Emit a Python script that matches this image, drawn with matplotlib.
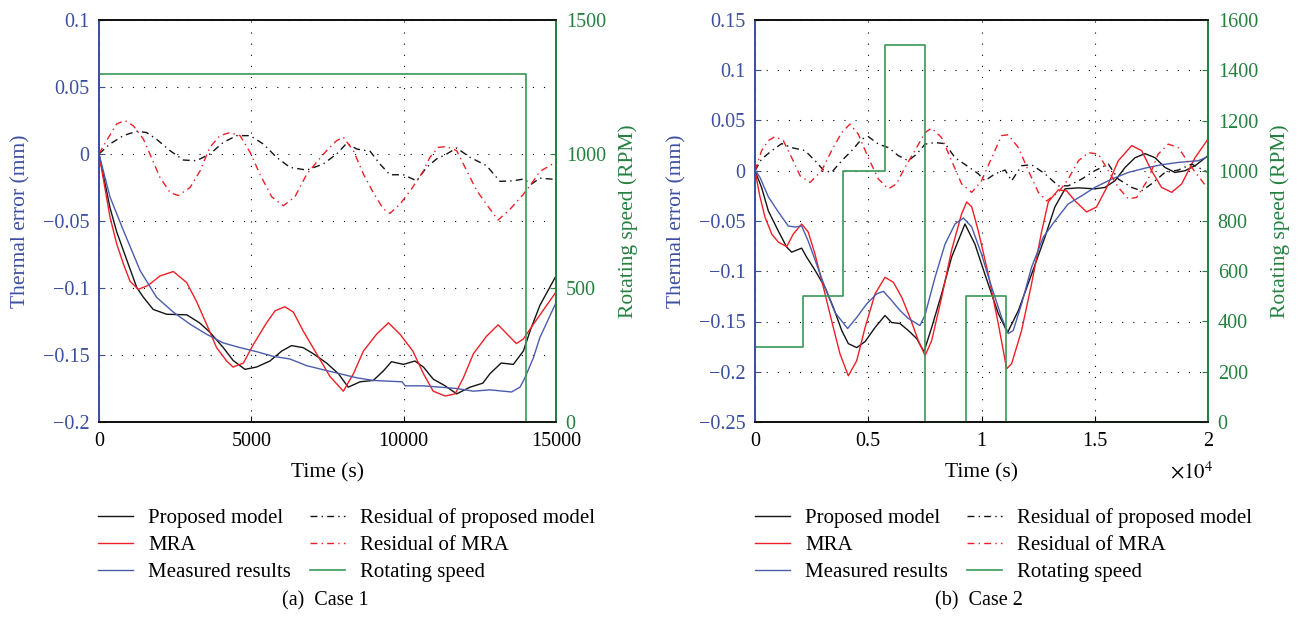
import matplotlib
matplotlib.use('Agg')
import matplotlib.pyplot as plt
from matplotlib.ticker import FuncFormatter, MultipleLocator

plt.rcParams['font.family'] = ['Liberation Serif', 'DejaVu Serif']
plt.rcParams['mathtext.fontset'] = 'stix'

# ---------------- case 1 data (time in s, error in mm, speed in rpm) ----------------
c1_prop_t = [0, 360, 580, 800, 1240, 1460, 1780, 2220, 2880, 3300, 3640, 4080, 4400, 4790, 5170,
             5610, 6000, 6320, 6700, 7030, 7470, 7860, 8180, 8570, 9000, 9330, 9600, 9990, 10370,
             10650, 10970, 11360, 11740, 12180, 12600, 12830, 13200, 13600, 13930, 14150, 14470, 15000]
c1_prop_v = [0, -0.040, -0.058, -0.072, -0.0997, -0.107, -0.116, -0.1196, -0.120, -0.126, -0.133,
             -0.1445, -0.154, -0.1607, -0.159, -0.1545, -0.147, -0.143, -0.1445, -0.149, -0.156,
             -0.164, -0.174, -0.170, -0.169, -0.162, -0.155, -0.157, -0.1545, -0.159, -0.168,
             -0.173, -0.179, -0.174, -0.171, -0.164, -0.156, -0.157, -0.147, -0.132, -0.113, -0.091]

c1_mra_t = [0, 360, 580, 800, 1020, 1290, 1620, 2000, 2440, 2880, 3200, 3530, 3860, 4190, 4400,
            4740, 5070, 5500, 5780, 6100, 6380, 6700, 7140, 7580, 8020, 8350, 8680, 9110, 9500,
            9880, 10300, 10650, 10970, 11360, 11690, 11960, 12290, 12720, 13100, 13400, 13700,
            13930, 14260, 15000]
c1_mra_v = [0, -0.047, -0.067, -0.082, -0.095, -0.101, -0.098, -0.091, -0.0877, -0.096, -0.110,
            -0.127, -0.1445, -0.1545, -0.159, -0.156, -0.142, -0.126, -0.117, -0.114, -0.118,
            -0.132, -0.149, -0.166, -0.177, -0.164, -0.147, -0.1345, -0.126, -0.1345, -0.147,
            -0.164, -0.177, -0.1806, -0.179, -0.167, -0.149, -0.136, -0.1275, -0.1345, -0.1415,
            -0.138, -0.127, -0.103]

c1_meas_t = [0, 360, 800, 1350, 1890, 2440, 2990, 3530, 4080, 4630, 5170, 5720, 6270, 6820, 7360,
             7910, 8460, 9000, 9950, 10050, 10650, 11190, 11740, 12290, 12830, 13540, 13820,
             13980, 14260, 14470, 15000]
c1_meas_v = [0, -0.032, -0.057, -0.087, -0.107, -0.118, -0.127, -0.1345, -0.141, -0.1445, -0.1475,
             -0.151, -0.153, -0.158, -0.161, -0.164, -0.167, -0.169, -0.170, -0.173, -0.173,
             -0.174, -0.175, -0.177, -0.176, -0.1776, -0.174, -0.167, -0.152, -0.137, -0.111]

c1_rprop_t = [0, 360, 800, 1240, 1560, 1890, 2330, 2770, 3200, 3640, 4080, 4520, 4960, 5390, 5830,
              6270, 6820, 7360, 7800, 8130, 8460, 8900, 9220, 9550, 9990, 10430, 10750, 11080,
              11410, 11740, 12180, 12720, 13160, 13600, 13930, 14200, 14470, 15000]
c1_rprop_v = [0, 0.0075, 0.0137, 0.017, 0.016, 0.011, 0.0025, -0.0045, -0.005, 0.0, 0.0087,
              0.0137, 0.0137, 0.0075, -0.0025, -0.010, -0.012, -0.0075, 0.0, 0.008, 0.0037, 0.002,
              -0.0075, -0.0155, -0.0155, -0.020, -0.010, -0.0037, 0.0, 0.0045, -0.0025, -0.0087,
              -0.0204, -0.020, -0.0187, -0.0224, -0.018, -0.019]

c1_rmra_t = [0, 250, 580, 850, 1130, 1460, 1670, 2000, 2330, 2600, 2990, 3320, 3640, 3970, 4300,
             4630, 4960, 5280, 5670, 6050, 6430, 6820, 7140, 7470, 7800, 8020, 8350, 8680, 9000,
             9330, 9550, 9880, 10260, 10650, 10860, 11140, 11410, 11740, 12070, 12400, 12830,
             13100, 13500, 13930, 14260, 14470, 15000]
c1_rmra_v = [0, 0.010, 0.0224, 0.025, 0.021, 0.011, 0.0, -0.0174, -0.0287, -0.031, -0.025,
             -0.0125, 0.005, 0.0137, 0.016, 0.0137, 0.0012, -0.015, -0.032, -0.0386, -0.032,
             -0.015, -0.0062, 0.0025, 0.010, 0.0125, 0.0025, -0.015, -0.0287, -0.041, -0.0443,
             -0.0374, -0.026, -0.0125, -0.0025, 0.005, 0.0055, 0.0025, -0.0125, -0.0274, -0.041,
             -0.0493, -0.041, -0.030, -0.020, -0.013, -0.006]

c1_speed_t = [0, 14000, 15000]
c1_speed_rpm = [1300, 0, 0]

# ---------------- case 2 data ----------------
c2_prop_t = [0, 290, 590, 1030, 1400, 1620, 1840, 2060, 2280, 2650, 3090, 3460, 3830, 4120, 4490,
             4860, 5300, 5740, 6030, 6400, 6770, 7140, 7460, 7800, 8240, 8680, 9270, 9710, 10150,
             10740, 11150, 11630, 12210, 12800, 13240, 13690, 14280, 15000, 15450, 15890, 16340,
             16780, 17220, 17660, 18100, 18540, 18980, 19430, 20000]
c2_prop_v = [0, -0.0166, -0.040, -0.060, -0.076, -0.081, -0.079, -0.077, -0.086, -0.099, -0.116,
             -0.136, -0.159, -0.172, -0.176, -0.170, -0.156, -0.144, -0.151, -0.152, -0.159,
             -0.167, -0.180, -0.156, -0.1225, -0.086, -0.053, -0.073, -0.103, -0.142, -0.161,
             -0.139, -0.103, -0.066, -0.036, -0.018, -0.017, -0.018, -0.0166, -0.010, 0.0033,
             0.013, 0.017, 0.013, 0.0033, -0.0017, 0.0, 0.005, 0.015]

c2_mra_t = [0, 220, 440, 740, 1030, 1400, 1690, 2060, 2350, 2650, 3020, 3380, 3750, 4120, 4490,
            4860, 5300, 5740, 6110, 6480, 6840, 7210, 7510, 7800, 8240, 8680, 9120, 9350, 9570,
            9860, 10300, 10740, 11110, 11330, 11770, 12210, 12660, 12950, 13390, 13760, 14130,
            14640, 15080, 15530, 16040, 16630, 17070, 17510, 17950, 18400, 18840, 19430, 20000]
c2_mra_v = [0, -0.026, -0.046, -0.063, -0.071, -0.0755, -0.063, -0.053, -0.061, -0.083, -0.116,
            -0.149, -0.182, -0.204, -0.189, -0.156, -0.1225, -0.106, -0.111, -0.126, -0.146,
            -0.169, -0.184, -0.169, -0.126, -0.079, -0.043, -0.031, -0.036, -0.060, -0.103,
            -0.152, -0.197, -0.192, -0.159, -0.1125, -0.060, -0.031, -0.019, -0.020, -0.030,
            -0.041, -0.036, -0.0166, 0.010, 0.025, 0.020, 0.0, -0.0166, -0.0215, -0.013, 0.013,
            0.0315]

c2_meas_t = [0, 220, 590, 1030, 1470, 1770, 2060, 2350, 2720, 3090, 3530, 4090, 4490, 4930, 5370,
             5670, 6030, 6400, 6770, 7280, 7500, 7950, 8390, 8830, 9200, 9570, 10000, 10450,
             10890, 11180, 11400, 11770, 12210, 12730, 13240, 13830, 14420, 15000, 15750, 16480,
             17220, 17950, 18690, 19570, 20000]
c2_meas_v = [0.001, -0.0066, -0.026, -0.041, -0.055, -0.056, -0.055, -0.070, -0.093, -0.116,
             -0.141, -0.157, -0.146, -0.1325, -0.1225, -0.120, -0.129, -0.139, -0.147, -0.154,
             -0.144, -0.106, -0.073, -0.053, -0.047, -0.056, -0.083, -0.116, -0.146, -0.162,
             -0.159, -0.1325, -0.096, -0.066, -0.050, -0.033, -0.025, -0.0166, -0.0083, -0.0017,
             0.0026, 0.006, 0.0083, 0.010, 0.014]

c2_rprop_t = [0, 290, 740, 1180, 1620, 2210, 2650, 3020, 3380, 3830, 4270, 4710, 5000, 5450, 5890,
              6330, 6770, 7140, 7510, 7950, 8390, 8830, 9350, 9860, 10150, 10600, 11040, 11330,
              11770, 12210, 12800, 13390, 13830, 14420, 15000, 15600, 16040, 16630, 17070, 17510,
              18100, 18690, 19280, 19570, 20000]
c2_rprop_v = [0, 0.0116, 0.020, 0.027, 0.023, 0.020, 0.010, 0.0007, -0.0017, 0.010, 0.020, 0.0315,
              0.034, 0.0265, 0.023, 0.015, 0.010, 0.0166, 0.0265, 0.028, 0.027, 0.013, 0.005,
              -0.003, -0.010, -0.003, 0.0007, -0.010, 0.005, 0.006, -0.003, -0.015, -0.015,
              -0.0083, 0.0, 0.0066, -0.0083, -0.0166, -0.020, -0.013, -0.0017, 0.0007, 0.0066,
              0.0033, -0.0017]

c2_rmra_t = [0, 290, 590, 880, 1250, 1620, 1990, 2430, 2940, 3380, 3830, 4190, 4560, 5000, 5450,
             5890, 6250, 6620, 7060, 7510, 7800, 8240, 8680, 9120, 9570, 10000, 10450, 10890,
             11180, 11630, 12070, 12510, 12880, 13390, 13830, 14280, 14720, 15160, 15600, 16040,
             16480, 16850, 17360, 17800, 18250, 18690, 19280, 20000]
c2_rmra_v = [0, 0.020, 0.030, 0.034, 0.030, 0.013, -0.005, -0.0116, 0.0, 0.020, 0.038, 0.0464,
             0.0364, 0.013, -0.0083, -0.018, -0.013, 0.0033, 0.020, 0.038, 0.0424, 0.033, 0.010,
             -0.013, -0.0215, -0.010, 0.013, 0.035, 0.0358, 0.023, 0.0, -0.0215, -0.030, -0.0215,
             -0.0083, 0.010, 0.018, 0.0166, 0.0, -0.0166, -0.028, -0.0265, -0.0083, 0.0166,
             0.0265, 0.023, 0.0033, -0.018]

c2_speed_t = [0, 2100, 3900, 5750, 7500, 9300, 11100, 20000]
c2_speed_rpm = [300, 500, 1000, 1500, 0, 500, 0, 0]

labels = ['Proposed model', 'MRA', 'Measured results',
          'Residual of proposed model', 'Residual of MRA', 'Rotating speed']

AX_BLUE = '#3c4fa2'
AX_GREEN = '#24813f'
L_BLACK = '#141414'
L_RED = '#ee1f26'
L_BLUE = '#4b5cad'
L_GREEN = '#3a9656'
DASHDOT = (0, (5, 3, 1, 3))

W, H = 1298, 625
fig = plt.figure(figsize=(W / 100, H / 100), dpi=100)


def num_fmt(v, pos):
    if abs(v) < 1e-9:
        return '0'
    return ('%g' % round(v, 4)).replace('-', '\u2212')


def panel(x0, x1, case, ylim, ystep, rpmlim, rpmstep, xlim, xfmt, leg_x, caption, cap_x):
    ax = fig.add_axes([x0 / W, 1 - 422 / H, (x1 - x0) / W, 402 / H])
    ax2 = ax.twinx()
    prop, mra, meas, rprop, rmra, speed = case
    h1, = ax.plot(*prop, color=L_BLACK, lw=1.0)
    h2, = ax.plot(*mra, color=L_RED, lw=1.0)
    h3, = ax.plot(*meas, color=L_BLUE, lw=1.0)
    h4, = ax.plot(*rprop, color=L_BLACK, lw=1.0, ls=DASHDOT)
    h5, = ax.plot(*rmra, color=L_RED, lw=1.0, ls=DASHDOT)
    h6, = ax2.plot(*speed, color=L_GREEN, lw=1.2, drawstyle='steps-post', clip_on=False)

    ax.set_xlim(*xlim)
    ax.set_ylim(*ylim)
    ax2.set_ylim(*rpmlim)
    ax.xaxis.set_major_locator(MultipleLocator(5000))
    ax.yaxis.set_major_locator(MultipleLocator(ystep))
    ax2.yaxis.set_major_locator(MultipleLocator(rpmstep))
    ax.xaxis.set_major_formatter(FuncFormatter(xfmt))
    ax.yaxis.set_major_formatter(FuncFormatter(num_fmt))
    ax.grid(True, ls=(0, (1, 9)), color='k', lw=0.8)

    ax.tick_params(axis='x', direction='in', length=4, labelsize=14.5, pad=7, top=False)
    ax.tick_params(axis='y', direction='in', length=4, labelsize=14.5, pad=7,
                   colors=AX_BLUE)
    ax2.tick_params(axis='y', direction='in', length=4, labelsize=14.5, pad=7,
                    colors=AX_GREEN)
    for a in (ax, ax2):
        for s in a.spines.values():
            s.set_linewidth(1.3)
        a.spines['bottom'].set_color('#111111')
        a.spines['top'].set_color('#111111')
        a.spines['left'].set_color(AX_BLUE)
        a.spines['right'].set_color(AX_GREEN)

    ax.set_xlabel('Time (s)', fontsize=15.5, labelpad=9)
    ax.set_ylabel('Thermal error (mm)', fontsize=15.5, color=AX_BLUE, labelpad=9)
    ax2.set_ylabel('Rotating speed (RPM)', fontsize=15.5, color=AX_GREEN, labelpad=9)

    fig.legend([h1, h2, h3, h4, h5, h6], labels, loc='upper left',
               bbox_to_anchor=(leg_x / W, 1 - 508 / H), ncol=2, frameon=False,
               fontsize=15, handlelength=1.7, handletextpad=0.7, columnspacing=0.9,
               labelspacing=0.36, borderpad=0, borderaxespad=0)
    fig.text(cap_x / W, 1 - 601 / H, caption, ha='center', va='center', fontsize=14.5)
    return ax


case1 = [(c1_prop_t, c1_prop_v), (c1_mra_t, c1_mra_v), (c1_meas_t, c1_meas_v),
         (c1_rprop_t, c1_rprop_v), (c1_rmra_t, c1_rmra_v), (c1_speed_t, c1_speed_rpm)]
case2 = [(c2_prop_t, c2_prop_v), (c2_mra_t, c2_mra_v), (c2_meas_t, c2_meas_v),
         (c2_rprop_t, c2_rprop_v), (c2_rmra_t, c2_rmra_v), (c2_speed_t, c2_speed_rpm)]

panel(99, 556, case1, (-0.2, 0.1), 0.05, (0, 1500), 500, (0, 15000),
      lambda v, p: '%d' % v, 98, '(a)  Case 1', 325)
ax_b = panel(755, 1208, case2, (-0.25, 0.15), 0.05, (0, 1600), 200, (0, 20000),
             lambda v, p: '%g' % (v / 1e4), 755, '(b)  Case 2', 979)
ax_b.text(1.012, -0.098, r'$\times10^{4}$', transform=ax_b.transAxes, ha='right', va='top',
          fontsize=15)

fig.savefig('out.png', dpi=100)
